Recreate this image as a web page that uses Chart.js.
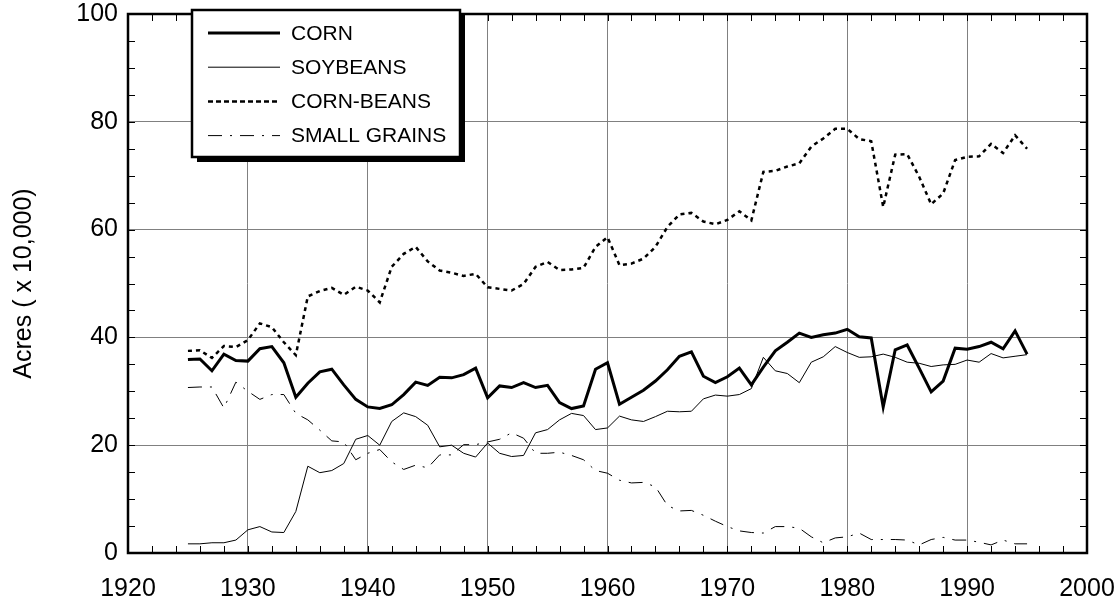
<!DOCTYPE html>
<html>
<head>
<meta charset="utf-8">
<title>Acres by crop, 1925-1995</title>
<script src="https://cdn.jsdelivr.net/npm/chart.js@4.4.1/dist/chart.umd.min.js"></script>
<style>
  html, body { margin: 0; padding: 0; background: #fff; }
</style>
</head>
<body>
<canvas id="acresChart" width="1117" height="603"></canvas>
<script>
// Data (acres x 10,000)
const years = [
  1925, 1926, 1927, 1928, 1929, 1930, 1931, 1932, 1933, 1934,
  1935, 1936, 1937, 1938, 1939, 1940, 1941, 1942, 1943, 1944,
  1945, 1946, 1947, 1948, 1949, 1950, 1951, 1952, 1953, 1954,
  1955, 1956, 1957, 1958, 1959, 1960, 1961, 1962, 1963, 1964,
  1965, 1966, 1967, 1968, 1969, 1970, 1971, 1972, 1973, 1974,
  1975, 1976, 1977, 1978, 1979, 1980, 1981, 1982, 1983, 1984,
  1985, 1986, 1987, 1988, 1989, 1990, 1991, 1992, 1993, 1994,
  1995
];

const corn = [
  35.9, 36.0, 33.8, 36.9, 35.7, 35.6, 37.9, 38.3, 35.3, 28.9,
  31.5, 33.6, 34.1, 31.2, 28.5, 27.1, 26.8, 27.5, 29.4, 31.7,
  31.1, 32.6, 32.5, 33.1, 34.3, 28.8, 31.0, 30.7, 31.6, 30.7,
  31.1, 27.9, 26.8, 27.3, 34.1, 35.3, 27.6, 28.9, 30.2, 31.9,
  34.0, 36.5, 37.3, 32.8, 31.6, 32.7, 34.3, 31.2, 34.5, 37.5,
  39.1, 40.8, 40.0, 40.5, 40.8, 41.5, 40.1, 39.9, 27.1, 37.7,
  38.6, 34.3, 29.9, 31.9, 38.0, 37.8, 38.3, 39.1, 37.9, 41.2,
  36.9
];

const soybeans = [
  1.7, 1.7, 1.9, 1.9, 2.4, 4.3, 4.9, 3.9, 3.8, 7.7,
  16.1, 14.9, 15.3, 16.6, 21.1, 21.8, 20.0, 24.4, 26.0, 25.3,
  23.7, 19.7, 20.0, 18.5, 17.8, 20.4, 18.5, 17.9, 18.1, 22.3,
  22.9, 24.7, 25.9, 25.5, 22.9, 23.2, 25.4, 24.7, 24.4, 25.3,
  26.3, 26.2, 26.3, 28.6, 29.3, 29.1, 29.4, 30.5, 36.3, 33.8,
  33.3, 31.6, 35.4, 36.4, 38.3, 37.2, 36.3, 36.4, 36.9, 36.3,
  35.4, 35.2, 34.6, 34.9, 35.0, 35.8, 35.4, 37.0, 36.2, 36.5,
  36.8
];

const cornBeans = [
  37.5, 37.6, 36.2, 38.4, 38.2, 39.5, 42.6, 41.9, 39.1, 36.7,
  47.6, 48.6, 49.2, 47.9, 49.4, 48.7, 46.5, 53.1, 55.5, 56.8,
  54.1, 52.4, 52.0, 51.4, 51.8, 49.3, 49.0, 48.7, 49.9, 53.1,
  54.0, 52.5, 52.6, 52.9, 56.8, 58.6, 53.4, 53.7, 54.6, 56.8,
  60.5, 62.8, 63.1, 61.5, 61.0, 61.8, 63.4, 61.7, 70.7, 70.9,
  71.7, 72.3, 75.4, 76.9, 78.7, 78.7, 76.8, 76.4, 64.2, 73.9,
  74.0, 69.8, 64.7, 66.7, 72.9, 73.5, 73.6, 75.9, 74.2, 77.5,
  75.0
];

const smallGrains = [
  30.7, 30.8, 30.8, 26.9, 31.7, 30.0, 28.5, 29.4, 29.4, 25.9,
  24.7, 22.8, 20.8, 20.6, 17.3, 18.5, 19.2, 16.9, 15.5, 16.3,
  15.8, 18.2, 18.2, 20.1, 20.1, 20.6, 21.1, 22.3, 21.3, 18.5,
  18.5, 18.7, 18.1, 17.3, 15.3, 14.8, 13.5, 13.0, 13.1, 12.3,
  8.8, 7.8, 7.9, 7.0, 5.9, 4.9, 4.1, 3.8, 3.7, 4.9,
  4.9, 4.6, 3.0, 1.9, 2.8, 3.0, 3.7, 2.5, 2.5, 2.5,
  2.4, 1.5, 2.5, 2.9, 2.4, 2.4, 2.0, 1.5, 2.4, 1.7,
  1.7
];

const seriesNames = ['CORN', 'SOYBEANS', 'CORN-BEANS', 'SMALL GRAINS'];
const xTicks = [1920, 1930, 1940, 1950, 1960, 1970, 1980, 1990, 2000];
const yTicks = [0, 20, 40, 60, 80, 100];

const FONT = 'Liberation Sans, Arial, sans-serif';

function points(values) {
  return years.map((yr, i) => ({ x: yr, y: values[i] }));
}

// inward minor ticks on all four sides plus the black frame
const frameTicks = {
  id: 'frameTicks',
  afterDatasetsDraw(chart) {
    const { ctx, chartArea: a, scales: { x, y } } = chart;
    ctx.save();
    ctx.strokeStyle = '#000';
    ctx.lineWidth = 1;
    ctx.beginPath();
    for (let yr = xTicks[0] + 2; yr < xTicks[xTicks.length - 1]; yr += 2) {
      const px = Math.round(x.getPixelForValue(yr)) + 0.5;
      ctx.moveTo(px, a.bottom); ctx.lineTo(px, a.bottom - 7);
      ctx.moveTo(px, a.top); ctx.lineTo(px, a.top + 7);
    }
    for (let v = 5; v < 100; v += 5) {
      const py = Math.round(y.getPixelForValue(v)) + 0.5;
      ctx.moveTo(a.left, py); ctx.lineTo(a.left + 7, py);
      ctx.moveTo(a.right, py); ctx.lineTo(a.right - 7, py);
    }
    ctx.stroke();
    ctx.lineWidth = 2.5;
    ctx.strokeRect(a.left, a.top, a.right - a.left, a.bottom - a.top);
    ctx.restore();
  }
};

// boxed legend with a drop shadow, top left inside the plot
const boxLegend = {
  id: 'boxLegend',
  afterDraw(chart) {
    const ctx = chart.ctx;
    const box = { left: 192, top: 10, right: 460, bottom: 157 };
    const w = box.right - box.left, h = box.bottom - box.top;
    ctx.save();
    ctx.fillStyle = '#000';
    ctx.fillRect(box.left + 5, box.top + 5, w, h);
    ctx.fillStyle = '#fff';
    ctx.fillRect(box.left, box.top, w, h);
    ctx.strokeStyle = '#000';
    ctx.lineWidth = 2.5;
    ctx.strokeRect(box.left, box.top, w, h);

    ctx.font = '21px ' + FONT;
    ctx.textBaseline = 'middle';
    ctx.fillStyle = '#000';
    chart.data.datasets.forEach((ds, i) => {
      const rowY = 33 + i * 34.2;
      ctx.beginPath();
      ctx.lineWidth = ds.borderWidth;
      ctx.setLineDash(ds.legendDash || ds.borderDash || []);
      ctx.moveTo(208, rowY);
      ctx.lineTo(280, rowY);
      ctx.stroke();
      ctx.setLineDash([]);
      ctx.fillText(ds.label, 291, rowY + 1);
    });
    ctx.restore();
  }
};

const ctx = document.getElementById('acresChart').getContext('2d');
const acresChart = new Chart(ctx, {
  type: 'line',
  data: {
    datasets: [
      {
        label: seriesNames[0],
        data: points(corn),
        borderColor: '#000',
        borderWidth: 3
      },
      {
        label: seriesNames[1],
        data: points(soybeans),
        borderColor: '#000',
        borderWidth: 1
      },
      {
        label: seriesNames[2],
        data: points(cornBeans),
        borderColor: '#000',
        borderWidth: 2.5,
        borderDash: [4, 4],
        legendDash: [5, 3]
      },
      {
        label: seriesNames[3],
        data: points(smallGrains),
        borderColor: '#000',
        borderWidth: 1,
        borderDash: [14, 8, 2, 8]
      }
    ]
  },
  options: {
    responsive: false,
    animation: false,
    layout: { padding: { top: 14, right: 30, left: 0, bottom: 0 } },
    elements: {
      point: { radius: 0 },
      line: { tension: 0, fill: false, borderCapStyle: 'butt', borderJoinStyle: 'miter' }
    },
    plugins: {
      legend: { display: false },
      tooltip: { enabled: false }
    },
    scales: {
      x: {
        type: 'linear',
        min: xTicks[0],
        max: xTicks[xTicks.length - 1],
        afterFit: s => {
          s.height = 50;
          s.paddingLeft = 0;
          s.paddingRight = 0;
        },
        afterBuildTicks: s => { s.ticks = xTicks.map(v => ({ value: v })); },
        ticks: {
          color: '#000',
          font: { family: FONT, size: 25 },
          padding: 21,
          maxRotation: 0,
          callback: v => String(v)
        },
        grid: { color: '#808080', lineWidth: 1, drawTicks: false },
        border: { display: false }
      },
      y: {
        min: yTicks[0],
        max: yTicks[yTicks.length - 1],
        afterFit: s => {
          s.width = 128;
          s.paddingTop = 0;
          s.paddingBottom = 0;
        },
        afterBuildTicks: s => { s.ticks = yTicks.map(v => ({ value: v })); },
        ticks: {
          color: '#000',
          font: { family: FONT, size: 25 },
          padding: 10
        },
        title: {
          display: true,
          text: 'Acres ( x 10,000)',
          color: '#000',
          font: { family: FONT, size: 25 },
          padding: { top: 9, bottom: 0 }
        },
        grid: { color: '#808080', lineWidth: 1, drawTicks: false },
        border: { display: false }
      }
    }
  },
  plugins: [frameTicks, boxLegend]
});
</script>
</body>
</html>
